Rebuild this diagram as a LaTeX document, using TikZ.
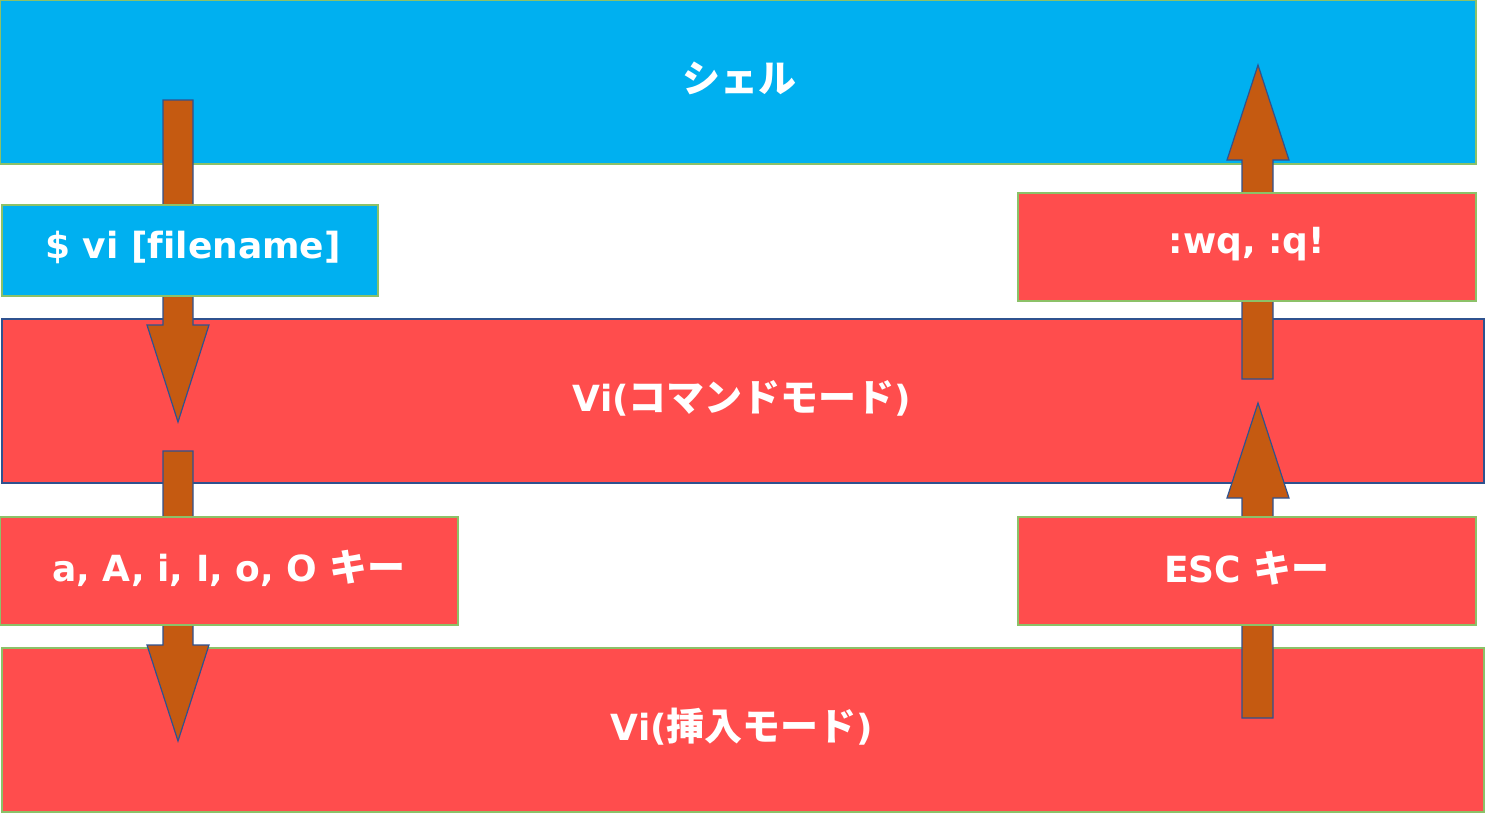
\documentclass[tikz,border=0pt]{standalone}
\usepackage{fontspec}
\setmainfont{DejaVu Sans}[Ligatures=NoCommon]
\newfontfamily\jp{Noto Sans CJK JP Bold}
\definecolor{skyb}{HTML}{00B0F0}
\definecolor{redb}{HTML}{FF4D4D}
\definecolor{grn}{HTML}{8CC168}
\definecolor{navy}{HTML}{2F528F}
\definecolor{arrowc}{HTML}{C55A11}
\begin{document}
\begin{tikzpicture}[x=1pt,y=-1pt,
  bar/.style={draw=grn, line width=1.2pt},
  lbl/.style={text=white, font=\bfseries\fontsize{36}{40}\selectfont},
  bigarrow/.style={fill=arrowc, draw=navy, line width=1.2pt, line join=miter}]
\useasboundingbox (0,0) rectangle (1485,814);
% bars
\path[bar, fill=skyb] (0,0) rectangle (1476,164);
\path[bar, fill=redb, draw=navy] (2,319) rectangle (1484,483);
\path[bar, fill=redb] (2,648) rectangle (1484,812);
\node[lbl] (shell) at (739,78) {{\jp\fontsize{38}{40}\selectfont シェル}};
\node[lbl] (cmd) at (742,398) {Vi({\jp\fontsize{38}{40}\selectfont コマンドモード})};
\node[lbl] (ins) at (742,727) {Vi({\jp\fontsize{38}{40}\selectfont 挿入モード})};
% arrows
\draw[bigarrow] (163,100) -- (193,100) -- (193,325) -- (209,325) -- (178,422) -- (147,325) -- (163,325) -- cycle;
\draw[bigarrow] (163,451) -- (193,451) -- (193,645) -- (209,645) -- (178,741) -- (147,645) -- (163,645) -- cycle;
\draw[bigarrow] (1242,379) -- (1273,379) -- (1273,160) -- (1289,160) -- (1258,65) -- (1227,160) -- (1242,160) -- cycle;
\draw[bigarrow] (1242,718) -- (1273,718) -- (1273,498) -- (1289,498) -- (1258,403) -- (1227,498) -- (1242,498) -- cycle;
% label boxes
\path[bar, fill=skyb] (2,205) rectangle (378,296);
\node[lbl] (vi) at (193,247) {\$ vi [filename]};
\path[bar, fill=redb] (0,517) rectangle (458,625);
\node[lbl] (keys) at (229,568) {a, A, i, I, o, O {\jp\fontsize{38}{40}\selectfont キー}};
\path[bar, fill=redb] (1018,193) rectangle (1476,301);
\node[lbl] (wq) at (1247,244) {:wq, :q!};
\path[bar, fill=redb] (1018,517) rectangle (1476,625);
\node[lbl] (esc) at (1247,568) {ESC {\jp\fontsize{38}{40}\selectfont キー}};
\end{tikzpicture}
\end{document}
